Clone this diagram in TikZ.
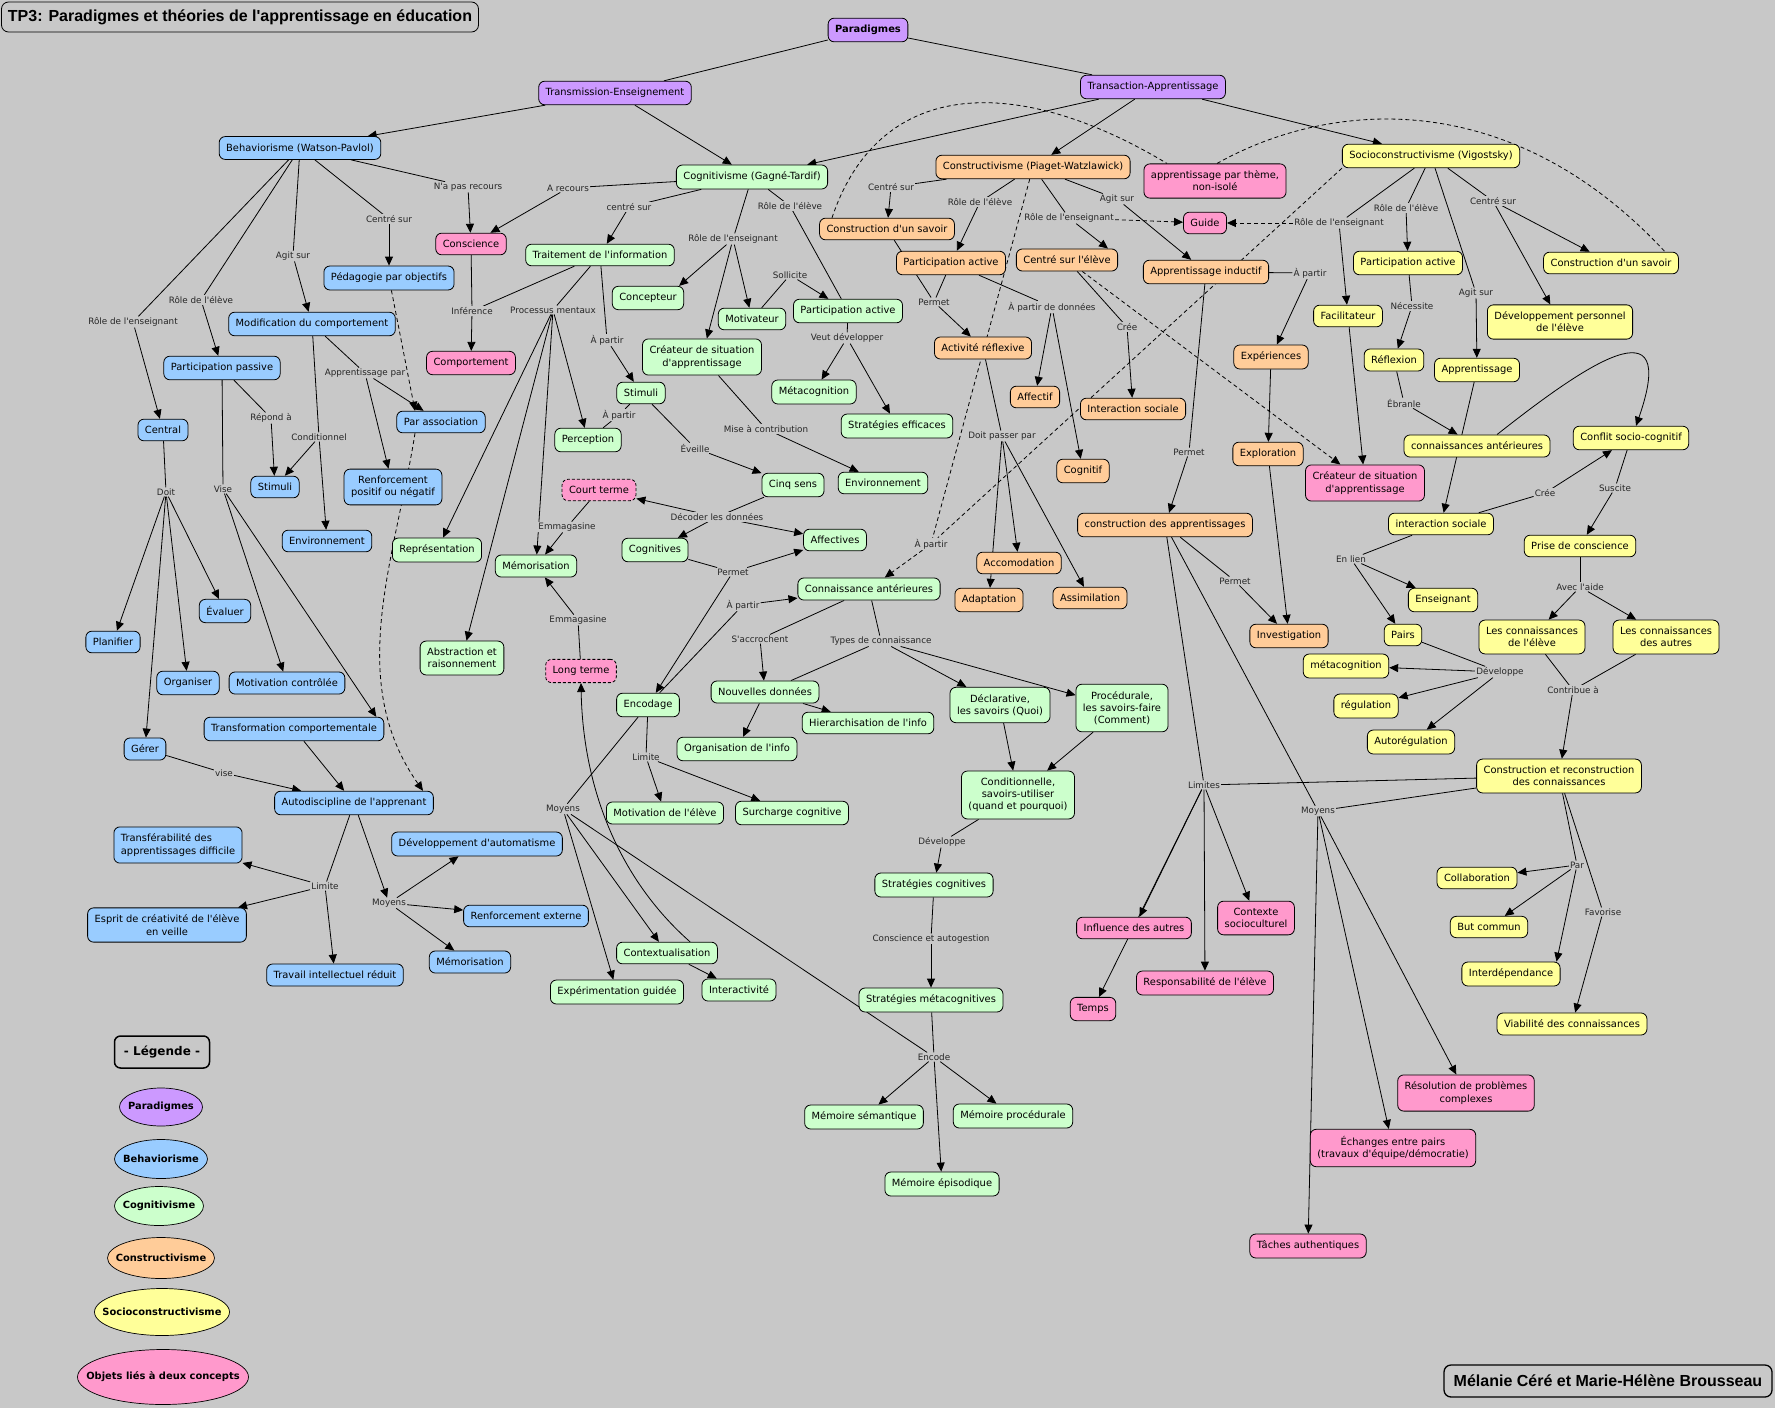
\documentclass[tikz,border=0pt]{standalone}
\usepackage{fontspec}
\setmainfont{DejaVu Sans}[Ligatures=TeXOff]
\newfontfamily\headfont{Liberation Sans}[Ligatures=TeXOff]
\usepackage{xcolor}
\usepackage{tikz}
\usetikzlibrary{arrows.meta,shapes.geometric}

\definecolor{canvas}{RGB}{200,200,200}
\definecolor{cpur}{RGB}{204,153,255}
\definecolor{cblu}{RGB}{153,204,255}
\definecolor{cgrn}{RGB}{204,255,204}
\definecolor{cora}{RGB}{255,204,153}
\definecolor{cyel}{RGB}{255,255,153}
\definecolor{cpnk}{RGB}{255,153,204}
\pgfdeclarelayer{back}
\pgfdeclarelayer{links}
\pgfsetlayers{back,links,main}

\begin{document}
\begin{tikzpicture}[x=1pt,y=-1pt,
  box/.style={draw,line width=0.8pt,rounded corners=6pt,align=center,
              inner xsep=7pt,inner ysep=7pt,font=\fontsize{9.9}{12.2}\selectfont},
  pur/.style={box,fill=cpur},
  blu/.style={box,fill=cblu},
  grn/.style={box,fill=cgrn},
  ora/.style={box,fill=cora},
  yel/.style={box,fill=cyel},
  pnk/.style={box,fill=cpnk},
  lbl/.style={fill=canvas,inner sep=1pt,text=black!85,font=\fontsize{8.8}{10}\selectfont},
  ln/.style={line width=0.8pt},
  arr/.style={ln,-{Triangle[length=9pt,width=8pt]}},
  dln/.style={ln,dash pattern=on 4pt off 3pt},
  darr/.style={arr,dash pattern=on 4pt off 3pt},
  leg/.style={ellipse,draw,line width=0.7pt,inner sep=0pt,font=\bfseries\fontsize{9.9}{12}\selectfont},
  frame/.style={draw,rounded corners=7pt,font=\headfont\bfseries\fontsize{16}{19}\selectfont}
]
\useasboundingbox (0,0) rectangle (1775,1408);
\begin{pgfonlayer}{back}
\fill[canvas] (0,0) rectangle (1775,1408);
\end{pgfonlayer}

\node[frame,line width=0.8pt,minimum width=477pt,minimum height=30pt] (ttl) at (240,17) {TP3: Paradigmes et théories de l'apprentissage en éducation};
\node[frame,line width=1.3pt,minimum width=328pt,minimum height=32pt] (auth) at (1608,1381) {Mélanie Céré et Marie-Hélène Brousseau};

\node[pur,font=\bfseries\fontsize{9.9}{12.2}\selectfont] (par) at (868,30) {Paradigmes};
\node[pur] (te) at (615,93) {Transmission-Enseignement};
\node[pur] (ta) at (1153,87) {Transaction-Apprentissage};

\node[blu] (beh) at (300,148) {Behaviorisme (Watson-Pavlol)};
\node[blu] (ped) at (389,278) {Pédagogie par objectifs};
\node[blu] (modif) at (312,324) {Modification du comportement};
\node[blu] (ppass) at (222,368) {Participation passive};
\node[blu] (central) at (163,430) {Central};
\node[blu] (bstim) at (275,487) {Stimuli};
\node[blu] (renf) at (393,487) {Renforcement\\positif ou négatif};
\node[blu] (assoc) at (441,422) {Par association};
\node[blu] (benv) at (327,541) {Environnement};
\node[blu] (plan) at (113,642) {Planifier};
\node[blu] (eval) at (225,611) {Évaluer};
\node[blu] (orgn) at (188,683) {Organiser};
\node[blu] (motc) at (287,683) {Motivation contrôlée};
\node[blu] (transf) at (294,729) {Transformation comportementale};
\node[blu] (gerer) at (145,749) {Gérer};
\node[blu] (autod) at (354,803) {Autodiscipline de l'apprenant};
\node[blu,align=left] (transfer) at (178,845) {Transférabilité des\\apprentissages difficile};
\node[blu] (esprit) at (167,925) {Esprit de créativité de l'élève\\en veille};
\node[blu] (autom) at (477,844) {Développement d'automatisme};
\node[blu] (renfext) at (526,916) {Renforcement externe};
\node[blu] (bmemo) at (470,962) {Mémorisation};
\node[blu] (travail) at (335,975) {Travail intellectuel réduit};

\node[pnk] (consc) at (471,244) {Conscience};
\node[pnk] (comp) at (471,363) {Comportement};
\node[pnk,dash pattern=on 3pt off 2pt] (court) at (599,490) {Court terme};
\node[pnk,dash pattern=on 3pt off 2pt] (long) at (581,671) {Long terme};
\node[pnk] (theme) at (1215,181) {apprentissage par thème,\\non-isolé};
\node[pnk] (guide) at (1205,223) {Guide};
\node[pnk] (creap) at (1365,483) {Créateur de situation\\d'apprentissage};
\node[pnk] (infl) at (1134,928) {Influence des autres};
\node[pnk] (ctx) at (1256,918) {Contexte\\socioculturel};
\node[pnk] (temps) at (1093,1009) {Temps};
\node[pnk] (resp) at (1205,983) {Responsabilité de l'élève};
\node[pnk] (taches) at (1308,1246) {Tâches authentiques};
\node[pnk] (resol) at (1466,1093) {Résolution de problèmes\\complexes};
\node[pnk] (echange) at (1393,1148) {Échanges entre pairs\\(travaux d'équipe/démocratie)};

\node[grn] (cog) at (752,177) {Cognitivisme (Gagné-Tardif)};
\node[grn] (trait) at (600,255) {Traitement de l'information};
\node[grn] (concep) at (648,298) {Concepteur};
\node[grn] (motiv) at (752,319) {Motivateur};
\node[grn] (gpact) at (848,311) {Participation active};
\node[grn] (gcrea) at (702,357) {Créateur de situation\\d'apprentissage};
\node[grn] (metac) at (814,392) {Métacognition};
\node[grn] (strat) at (897,426) {Stratégies efficaces};
\node[grn] (gstim) at (641,393) {Stimuli};
\node[grn] (percep) at (588,440) {Perception};
\node[grn] (cinq) at (793,485) {Cinq sens};
\node[grn] (genv) at (883,483) {Environnement};
\node[grn] (repr) at (437,550) {Représentation};
\node[grn] (gmemo) at (536,566) {Mémorisation};
\node[grn] (cogn) at (655,550) {Cognitives};
\node[grn] (affect) at (835,540) {Affectives};
\node[grn] (conn) at (869,589) {Connaissance antérieures};
\node[grn] (abstr) at (462,658) {Abstraction et\\raisonnement};
\node[grn] (encod) at (648,705) {Encodage};
\node[grn] (nouv) at (765,692) {Nouvelles données};
\node[grn] (hier) at (868,723) {Hierarchisation de l'info};
\node[grn] (orga) at (737,749) {Organisation de l'info};
\node[grn] (motel) at (665,813) {Motivation de l'élève};
\node[grn] (surch) at (792,813) {Surcharge cognitive};
\node[grn] (contx) at (667,953) {Contextualisation};
\node[grn] (exper) at (617,992) {Expérimentation guidée};
\node[grn] (inter) at (739,990) {Interactivité};
\node[grn] (decl) at (1000,705) {Déclarative,\\les savoirs (Quoi)};
\node[grn] (proc) at (1122,708) {Procédurale,\\les savoirs-faire\\(Comment)};
\node[grn] (condi) at (1018,795) {Conditionnelle,\\savoirs-utiliser\\(quand et pourquoi)};
\node[grn] (stcog) at (934,885) {Stratégies cognitives};
\node[grn] (stmeta) at (931,1000) {Stratégies métacognitives};
\node[grn] (msem) at (864,1117) {Mémoire sémantique};
\node[grn] (mproc) at (1013,1116) {Mémoire procédurale};
\node[grn] (mepi) at (942,1184) {Mémoire épisodique};

\node[ora] (cons) at (1033,167) {Constructivisme (Piaget-Watzlawick)};
\node[ora] (osav) at (887,229) {Construction d'un savoir};
\node[ora] (opact) at (951,263) {Participation active};
\node[ora] (celev) at (1067,260) {Centré sur l'élève};
\node[ora] (induc) at (1206,272) {Apprentissage inductif};
\node[ora] (reflex) at (983,348) {Activité réflexive};
\node[ora] (affectif) at (1035,397) {Affectif};
\node[ora] (ointer) at (1133,409) {Interaction sociale};
\node[ora] (cognitif) at (1083,471) {Cognitif};
\node[ora] (experi) at (1271,357) {Expériences};
\node[ora] (explo) at (1268,454) {Exploration};
\node[ora] (capp) at (1165,525) {construction des apprentissages};
\node[ora] (accom) at (1019,563) {Accomodation};
\node[ora] (adapt) at (989,600) {Adaptation};
\node[ora] (assim) at (1090,598) {Assimilation};
\node[ora] (invest) at (1289,636) {Investigation};

\node[yel] (soc) at (1431,156) {Socioconstructivisme (Vigostsky)};
\node[yel] (ypact) at (1408,263) {Participation active};
\node[yel] (ysav) at (1611,263) {Construction d'un savoir};
\node[yel] (facil) at (1348,316) {Facilitateur};
\node[yel] (devp) at (1560,322) {Développement personnel\\de l'élève};
\node[yel] (reflx) at (1394,360) {Réflexion};
\node[yel] (appr) at (1477,370) {Apprentissage};
\node[yel] (conant) at (1477,446) {connaissances antérieures};
\node[yel] (conflit) at (1631,438) {Conflit socio-cognitif};
\node[yel] (yinter) at (1441,524) {interaction sociale};
\node[yel] (prise) at (1580,546) {Prise de conscience};
\node[yel] (ens) at (1443,600) {Enseignant};
\node[yel] (pairs) at (1403,635) {Pairs};
\node[yel] (lce) at (1532,637) {Les connaissances\\de l'élève};
\node[yel] (lca) at (1666,637) {Les connaissances\\des autres};
\node[yel] (ymeta) at (1346,666) {métacognition};
\node[yel] (regul) at (1366,706) {régulation};
\node[yel] (autor) at (1411,742) {Autorégulation};
\node[yel] (crc) at (1559,776) {Construction et reconstruction\\des connaissances};
\node[yel] (collab) at (1477,878) {Collaboration};
\node[yel] (butc) at (1489,927) {But commun};
\node[yel] (interd) at (1511,974) {Interdépendance};
\node[yel] (viab) at (1572,1024) {Viabilité des connaissances};

\node[lbl] (lnapas) at (468,187) {N'a pas recours};
\node[lbl] (lbcentre) at (389,219) {Centré sur};
\node[lbl] (lbagit) at (293,256) {Agit sur};
\node[lbl] (lbeleve) at (201,300) {Rôle de l'élève};
\node[lbl] (lbens) at (133,322) {Rôle de l'enseignant};
\node[lbl] (lapppar) at (365,373) {Apprentissage par};
\node[lbl] (lrepond) at (271,418) {Répond à};
\node[lbl] (lcondi) at (319,437) {Conditionnel};
\node[lbl] (ldoit) at (166,492) {Doit};
\node[lbl] (lvise) at (223,489) {Vise};
\node[lbl] (lvise2) at (224,773) {vise};
\node[lbl] (llimite) at (325,886) {Limite};
\node[lbl] (lmoyens) at (389,903) {Moyens};

\node[lbl] (lrecours) at (568,188) {A recours};
\node[lbl] (lccentre) at (629,207) {centré sur};
\node[lbl] (lcens) at (733,239) {Rôle de l'enseignant};
\node[lbl] (lceleve) at (790,206) {Rôle de l'élève};
\node[lbl] (linfer) at (472,311) {Inférence};
\node[lbl] (lproc) at (553,310) {Processus mentaux};
\node[lbl] (lpartir1) at (607,340) {À partir};
\node[lbl] (lpartir2) at (619,415) {À partir};
\node[lbl] (lsollic) at (790,275) {Sollicite};
\node[lbl] (lveut) at (847,338) {Veut développer};
\node[lbl] (lmise) at (766,429) {Mise à contribution};
\node[lbl] (leveille) at (695,448) {Éveille};
\node[lbl] (ldecod) at (717,517) {Décoder les données};
\node[lbl] (lemma1) at (567,527) {Emmagasine};
\node[lbl] (lemma2) at (578,620) {Emmagasine};
\node[lbl] (lpermet1) at (733,572) {Permet};
\node[lbl] (lpartir3) at (743,605) {À partir};
\node[lbl] (laccro) at (760,639) {S'accrochent};
\node[lbl] (ltypes) at (881,641) {Types de connaissance};
\node[lbl] (llimite2) at (646,757) {Limite};
\node[lbl] (lmoyens2) at (563,809) {Moyens};
\node[lbl] (ldevel) at (942,842) {Développe};
\node[lbl] (lconsc) at (931,939) {Conscience et autogestion};
\node[lbl] (lencode) at (934,1057) {Encode};

\node[lbl] (locentre) at (891,187) {Centré sur};
\node[lbl] (loeleve) at (980,202) {Rôle de l'élève};
\node[lbl] (loens) at (1069,218) {Rôle de l'enseignant};
\node[lbl] (loagit) at (1117,199) {Agit sur};
\node[lbl] (lpermet2) at (934,302) {Permet};
\node[lbl] (ldonnees) at (1052,307) {À partir de données};
\node[lbl] (lcree1) at (1127,327) {Crée};
\node[lbl] (lpartir4) at (1310,273) {À partir};
\node[lbl] (ldoitp) at (1002,436) {Doit passer par};
\node[lbl] (lpermet3) at (1189,452) {Permet};
\node[lbl] (lpartir5) at (931,544) {À partir};
\node[lbl] (lpermet4) at (1235,581) {Permet};
\node[lbl] (llimites) at (1204,785) {Limites};
\node[lbl] (lmoyens3) at (1318,811) {Moyens};

\node[lbl] (lyens) at (1339,223) {Rôle de l'enseignant};
\node[lbl] (lyeleve) at (1406,208) {Rôle de l'élève};
\node[lbl] (lycentre) at (1493,201) {Centré sur};
\node[lbl] (lyagit) at (1476,293) {Agit sur};
\node[lbl] (lneces) at (1412,306) {Nécessite};
\node[lbl] (lebran) at (1404,403) {Ébranle};
\node[lbl] (lcree2) at (1545,493) {Crée};
\node[lbl] (lsusc) at (1615,488) {Suscite};
\node[lbl] (lenlien) at (1351,559) {En lien};
\node[lbl] (lavec) at (1580,587) {Avec l'aide};
\node[lbl] (ldevel2) at (1500,672) {Développe};
\node[lbl] (lcontrib) at (1573,690) {Contribue à};
\node[lbl] (lpar) at (1577,865) {Par};
\node[lbl] (lfavor) at (1603,912) {Favorise};

\node[draw,line width=1.5pt,rounded corners=6pt,minimum width=95pt,minimum height=32pt,
      font=\bfseries\fontsize{12}{14}\selectfont] (legtitle) at (162,1052) {- Légende -};
\node[leg,fill=cpur,minimum width=83pt,minimum height=38pt] (leg1) at (161,1107) {\makebox[0pt]{Paradigmes}};
\node[leg,fill=cblu,minimum width=93pt,minimum height=39pt] (leg2) at (161,1159) {\makebox[0pt]{Behaviorisme}};
\node[leg,fill=cgrn,minimum width=89pt,minimum height=39pt] (leg3) at (159,1206) {\makebox[0pt]{Cognitivisme}};
\node[leg,fill=cora,minimum width=107pt,minimum height=41pt] (leg4) at (161,1258) {\makebox[0pt]{Constructivisme}};
\node[leg,fill=cyel,minimum width=135pt,minimum height=47pt] (leg5) at (162,1312) {\makebox[0pt]{Socioconstructivisme}};
\node[leg,fill=cpnk,minimum width=171pt,minimum height=55pt] (leg6) at (163,1377) {\makebox[0pt]{Objets liés à deux concepts}};

\begin{pgfonlayer}{links}
\draw[ln] (par) -- (te);
\draw[ln] (par) -- (ta);
\draw[arr] (te) -- (beh);
\draw[arr] (te) -- (cog);
\draw[arr] (ta) -- (cog);
\draw[arr] (ta) -- (cons);
\draw[arr] (ta) -- (soc);

\draw[ln] (beh) -- (lnapas);
\draw[arr] (lnapas) -- (consc);
\draw[ln] (beh) -- (lbcentre);
\draw[arr] (lbcentre) -- (ped);
\draw[ln] (beh) -- (lbagit);
\draw[arr] (lbagit) -- (modif);
\draw[ln] (beh) -- (lbeleve);
\draw[arr] (lbeleve) -- (ppass);
\draw[ln] (beh) -- (lbens);
\draw[arr] (lbens) -- (central);
\draw[darr] (ped) -- ([xshift=-26pt]assoc.north);
\draw[darr] ([xshift=-26pt]assoc.south) .. controls (395,560) and (345,680) .. ([xshift=69pt]autod.north);
\draw[ln] (modif) -- (lapppar);
\draw[arr] (lapppar) -- (assoc);
\draw[arr] (lapppar) -- (renf);
\draw[ln] (modif) -- (lcondi);
\draw[arr] (lcondi) -- (bstim);
\draw[arr] (lcondi) -- (benv);
\draw[ln] (ppass) -- (lrepond);
\draw[arr] (lrepond) -- (bstim);
\draw[ln] (ppass) -- (lvise);
\draw[arr] (lvise) -- (motc);
\draw[arr] (lvise) -- ([xshift=-8pt]transf.north east);
\draw[ln] (central) -- (ldoit);
\draw[arr] (ldoit) -- (plan);
\draw[arr] (ldoit) -- (orgn);
\draw[arr] (ldoit) -- (eval);
\draw[arr] (ldoit) -- (gerer);
\draw[ln] (gerer) -- (lvise2);
\draw[arr] (lvise2) -- (autod);
\draw[arr] (transf) -- (autod);
\draw[ln] (autod) -- (llimite);
\draw[arr] (llimite) -- (transfer);
\draw[arr] (llimite) -- (esprit);
\draw[arr] (llimite) -- (travail);
\draw[arr] (autod) -- (lmoyens);
\draw[arr] (lmoyens) -- (autom);
\draw[arr] (lmoyens) -- (renfext);
\draw[arr] (lmoyens) -- (bmemo);

\draw[ln] (cog) -- (lrecours);
\draw[arr] (lrecours) -- (consc);
\draw[ln] (cog) -- (lccentre);
\draw[arr] (lccentre) -- (trait);
\draw[ln] (cog) -- (lcens);
\draw[arr] (lcens) -- ([xshift=-5pt]concep.north east);
\draw[arr] (lcens) -- (motiv);
\draw[arr] (lcens) -- (gcrea);
\draw[ln] (cog) -- (lceleve);
\draw[ln] (lceleve) -- (gpact);
\draw[ln] (consc) -- (linfer);
\draw[ln] (trait) -- (linfer);
\draw[arr] (linfer) -- (comp);
\draw[ln] (trait) -- (lproc);
\draw[arr] (lproc) -- (percep);
\draw[arr] (lproc) -- (gmemo);
\draw[arr] (lproc) -- (repr);
\draw[arr] (lproc) -- (abstr);
\draw[ln] (trait) -- (lpartir1);
\draw[arr] (lpartir1) -- (gstim);
\draw[ln] (gstim) -- (lpartir2);
\draw[ln] (lpartir2) -- (percep);
\draw[ln] (motiv) -- (lsollic);
\draw[arr] (lsollic) -- (gpact);
\draw[ln] (gpact) -- (lveut);
\draw[arr] (lveut) -- (metac);
\draw[arr] (lveut) -- (strat);
\draw[ln] (gcrea) -- (lmise);
\draw[arr] (lmise) -- (genv);
\draw[ln] (gstim) -- (leveille);
\draw[arr] (leveille) -- (cinq);
\draw[ln] (cinq) -- (ldecod);
\draw[arr] (ldecod) -- (court);
\draw[arr] (ldecod) -- (cogn);
\draw[arr] (ldecod) -- (affect);
\draw[ln] (court) -- (lemma1);
\draw[arr] (lemma1) -- (gmemo);
\draw[ln] (long) -- (lemma2);
\draw[arr] (lemma2) -- (gmemo);
\draw[ln] (cogn) -- (lpermet1);
\draw[arr] (lpermet1) -- (affect);
\draw[arr] (lpermet1) -- (encod);
\draw[ln] (encod) -- (lpartir3);
\draw[arr] (lpartir3) -- (conn);
\draw[ln] (conn) -- (laccro);
\draw[arr] (laccro) -- (nouv);
\draw[ln] (conn) -- (ltypes);
\draw[ln] (nouv) -- (ltypes);
\draw[arr] (ltypes) -- (decl);
\draw[arr] (ltypes) -- (proc);
\draw[arr] (nouv) -- (hier);
\draw[arr] (nouv) -- (orga);
\draw[ln] (encod) -- (llimite2);
\draw[arr] (llimite2) -- (motel);
\draw[arr] (llimite2) -- (surch);
\draw[ln] (encod) -- (lmoyens2);
\draw[arr] (lmoyens2) -- (contx);
\draw[arr] (lmoyens2) -- (exper);
\draw[ln] (lmoyens2) -- (lencode);
\draw[arr] (contx) -- (inter);
\draw[arr] ([xshift=23pt]contx.north) .. controls (620,880) and (583,790) .. (long.south);
\draw[arr] (decl) -- (condi);
\draw[arr] (proc) -- (condi);
\draw[ln] (condi) -- (ldevel);
\draw[arr] (ldevel) -- (stcog);
\draw[ln] (stcog) -- (lconsc);
\draw[arr] (lconsc) -- (stmeta);
\draw[ln] (stmeta) -- (lencode);
\draw[arr] (lencode) -- (msem);
\draw[arr] (lencode) -- (mproc);
\draw[arr] (lencode) -- (mepi);

\draw[ln] (cons) -- (locentre);
\draw[arr] (locentre) -- (osav);
\draw[ln] (cons) -- (loeleve);
\draw[arr] (loeleve) -- (opact);
\draw[ln] (cons) -- (loens);
\draw[arr] (loens) -- ([xshift=41pt]celev.north);
\draw[darr] (loens) -- (guide);
\draw[ln] (cons) -- (loagit);
\draw[arr] (loagit) -- (induc);
\draw[dln] (cons) -- (lpartir5);
\draw[dln] (soc.south west) -- (lpartir5);
\draw[darr] (lpartir5) -- (conn);
\draw[dln] ([xshift=-55pt]osav.north) .. controls (880,75) and (1020,75) .. ([xshift=-48pt]theme.north);
\draw[dln] ([xshift=2pt]theme.north) .. controls (1330,100) and (1510,85) .. ([xshift=54pt]ysav.north);
\draw[ln] (osav) -- (lpermet2);
\draw[ln] (opact) -- (lpermet2);
\draw[arr] (lpermet2) -- (reflex);
\draw[ln] (opact) -- (ldonnees);
\draw[arr] (ldonnees) -- (affectif);
\draw[arr] (ldonnees) -- (cognitif);
\draw[ln] (celev) -- (lcree1);
\draw[arr] (lcree1) -- (ointer);
\draw[darr] (celev) -- (creap);
\draw[ln] (reflex) -- (ldoitp);
\draw[arr] (ldoitp) -- (adapt);
\draw[arr] (ldoitp) -- (accom);
\draw[arr] (ldoitp) -- (assim);
\draw[ln] (induc) -- (lpartir4);
\draw[arr] (lpartir4) -- (experi);
\draw[ln] (induc) -- (lpermet3);
\draw[arr] (lpermet3) -- (capp);
\draw[arr] (experi) -- (explo);
\draw[arr] (explo) -- (invest);
\draw[ln] (capp) -- (lpermet4);
\draw[arr] (lpermet4) -- (invest);
\draw[ln] (capp) -- (llimites);
\draw[ln] (crc) -- (llimites);
\draw[arr] (llimites) -- (infl);
\draw[arr] (llimites) -- (temps);
\draw[arr] (llimites) -- (resp);
\draw[arr] (llimites) -- (ctx);
\draw[ln] (capp) -- (lmoyens3);
\draw[ln] (crc) -- (lmoyens3);
\draw[arr] (lmoyens3) -- (taches);
\draw[arr] (lmoyens3) -- (echange);
\draw[arr] (lmoyens3) -- (resol);

\draw[ln] (soc) -- (lyens);
\draw[arr] (lyens) -- (facil);
\draw[darr] (lyens) -- (guide);
\draw[ln] (soc) -- (lyeleve);
\draw[arr] (lyeleve) -- (ypact);
\draw[ln] (soc) -- (lyagit);
\draw[arr] (lyagit) -- (appr);
\draw[ln] (soc) -- (lycentre);
\draw[arr] (lycentre) -- (ysav);
\draw[arr] (lycentre) -- (devp);
\draw[arr] (facil) -- (creap);
\draw[ln] (ypact) -- (lneces);
\draw[arr] (lneces) -- (reflx);
\draw[ln] (reflx) -- (lebran);
\draw[arr] (lebran) -- (conant);
\draw[arr] (appr) -- (yinter);
\draw[arr] ([xshift=20pt]conant.north) .. controls (1585,365) and (1680,300) .. ([xshift=5pt]conflit.north);
\draw[ln] (yinter) -- (lcree2);
\draw[arr] (lcree2) -- (conflit);
\draw[ln] (conflit) -- (lsusc);
\draw[arr] (lsusc) -- (prise);
\draw[ln] (yinter) -- (lenlien);
\draw[arr] (lenlien) -- (ens);
\draw[arr] (lenlien) -- (pairs);
\draw[ln] (pairs) -- (ldevel2);
\draw[arr] (ldevel2) -- (ymeta);
\draw[arr] (ldevel2) -- (regul);
\draw[arr] (ldevel2) -- (autor);
\draw[ln] (prise) -- (lavec);
\draw[arr] (lavec) -- (lce);
\draw[arr] (lavec) -- (lca);
\draw[ln] (lce) -- (lcontrib);
\draw[ln] (lca) -- (lcontrib);
\draw[arr] (lcontrib) -- (crc);
\draw[ln] (crc) -- (lpar);
\draw[arr] (lpar) -- (collab);
\draw[arr] (lpar) -- (butc);
\draw[arr] (lpar) -- ([xshift=-4pt]interd.north east);
\draw[ln] (crc) -- (lfavor);
\draw[arr] (lfavor) -- (viab);
\end{pgfonlayer}
\end{tikzpicture}
\end{document}
